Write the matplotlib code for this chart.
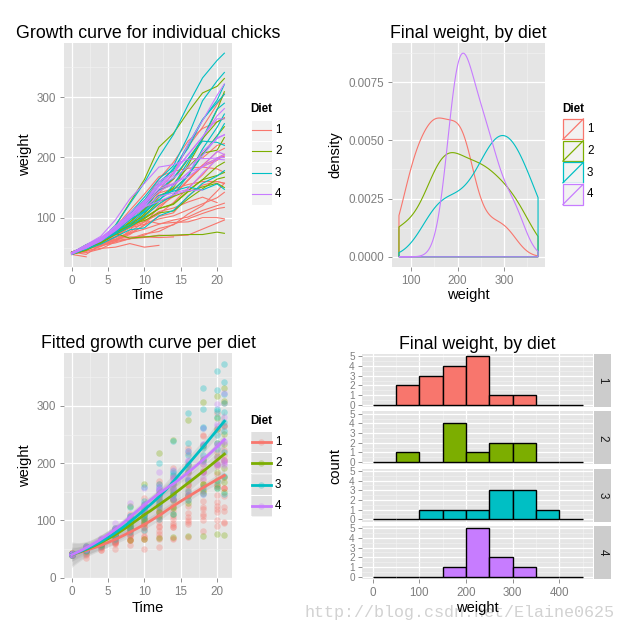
import numpy as np
import matplotlib

matplotlib.use("Agg")
import matplotlib.pyplot as plt
from matplotlib.patches import Rectangle
from matplotlib.lines import Line2D

plt.rcParams["font.family"] = ["Liberation Sans", "DejaVu Sans"]

# ChickWeight data: weight of each chick at the measurement times
times = [0, 2, 4, 6, 8, 10, 12, 14, 16, 18, 20, 21]
diets = ["1", "2", "3", "4"]

diet1_weights = [
    [42, 51, 59, 64, 76, 93, 106, 125, 149, 171, 199, 205],
    [40, 49, 58, 72, 84, 103, 122, 138, 162, 187, 209, 215],
    [43, 39, 55, 67, 84, 99, 115, 138, 163, 187, 198, 202],
    [42, 49, 56, 67, 74, 87, 102, 108, 136, 154, 160, 157],
    [41, 42, 48, 60, 79, 106, 141, 164, 197, 199, 220, 223],
    [41, 49, 59, 74, 97, 124, 141, 148, 155, 160, 160, 157],
    [41, 49, 57, 71, 89, 112, 146, 174, 218, 250, 288, 305],
    [42, 50, 61, 71, 84, 93, 110, 116, 126, 134, 125],
    [42, 51, 59, 68, 85, 96, 90, 92, 93, 100, 100, 98],
    [41, 44, 52, 63, 74, 81, 89, 96, 101, 112, 120, 124],
    [43, 51, 63, 84, 112, 139, 168, 177, 182, 184, 181, 175],
    [41, 49, 56, 62, 72, 88, 119, 135, 162, 185, 195, 205],
    [41, 48, 53, 60, 65, 67, 71, 70, 71, 81, 91, 96],
    [41, 49, 62, 79, 101, 128, 164, 192, 227, 248, 259, 266],
    [41, 49, 56, 64, 68, 68, 67, 68],
    [41, 45, 49, 51, 57, 51, 54],
    [42, 51, 61, 72, 83, 89, 98, 103, 113, 123, 133, 142],
    [39, 35],
    [43, 48, 55, 62, 65, 71, 82, 88, 106, 120, 144, 157],
    [41, 47, 54, 58, 65, 73, 77, 89, 98, 107, 115, 117],
]
diet2_weights = [
    [40, 50, 62, 86, 125, 163, 217, 240, 275, 307, 318, 331],
    [41, 55, 64, 77, 90, 95, 108, 111, 131, 148, 164, 167],
    [43, 52, 61, 73, 90, 103, 127, 135, 145, 163, 170, 175],
    [42, 52, 58, 74, 66, 68, 70, 71, 72, 72, 76, 74],
    [40, 49, 62, 78, 102, 124, 146, 164, 197, 231, 259, 265],
    [42, 48, 57, 74, 93, 114, 136, 147, 169, 205, 236, 251],
    [39, 46, 58, 73, 87, 100, 115, 123, 144, 163, 185, 192],
    [39, 46, 58, 73, 92, 114, 145, 156, 184, 207, 212, 233],
    [39, 48, 59, 74, 87, 106, 134, 150, 187, 230, 279, 309],
    [42, 48, 59, 72, 85, 98, 115, 122, 143, 151, 157, 150],
]
diet3_weights = [
    [42, 53, 62, 73, 85, 102, 123, 138, 170, 204, 235, 256],
    [41, 49, 65, 82, 107, 129, 159, 179, 221, 263, 291, 305],
    [39, 50, 63, 77, 96, 111, 137, 144, 151, 146, 156, 147],
    [41, 49, 63, 85, 107, 134, 164, 186, 235, 294, 327, 341],
    [41, 53, 64, 87, 123, 158, 201, 238, 287, 332, 361, 373],
    [39, 48, 61, 76, 98, 116, 145, 166, 198, 227, 225, 220],
    [41, 48, 56, 68, 80, 83, 103, 112, 135, 157, 169, 178],
    [41, 49, 61, 74, 98, 109, 128, 154, 192, 232, 280, 290],
    [42, 50, 61, 78, 89, 109, 130, 146, 170, 214, 250, 272],
    [41, 55, 66, 79, 101, 120, 154, 182, 215, 262, 295, 321],
]
diet4_weights = [
    [42, 51, 66, 85, 103, 124, 155, 153, 175, 184, 199, 204],
    [42, 49, 63, 84, 103, 126, 160, 174, 204, 234, 269, 281],
    [42, 55, 69, 96, 131, 157, 184, 188, 197, 198, 199, 200],
    [42, 51, 65, 86, 103, 118, 127, 138, 145, 146],
    [41, 50, 61, 78, 98, 117, 135, 141, 147, 174, 197, 196],
    [40, 52, 62, 82, 101, 120, 144, 156, 173, 210, 231, 238],
    [41, 53, 66, 79, 100, 123, 148, 157, 168, 185, 210, 205],
    [39, 50, 62, 80, 104, 125, 154, 170, 222, 261, 303, 322],
    [40, 53, 64, 85, 108, 128, 152, 166, 184, 203, 233, 237],
    [41, 54, 67, 84, 105, 122, 155, 175, 205, 234, 264, 264],
]
diet_weights = [diet1_weights, diet2_weights, diet3_weights, diet4_weights]

COLORS = ["#F8766D", "#7CAE00", "#00BFC4", "#C77CFF"]
W, H = 630, 631
TICK_GREY = "#7F7F7F"


def box(left, top, right, bottom):
    """Pixel box (from top-left) -> figure fraction rect."""
    return [left / W, 1 - bottom / H, (right - left) / W, (bottom - top) / H]


def style_panel(ax):
    ax.set_facecolor("#E5E5E5")
    for spine in ax.spines.values():
        spine.set_visible(False)
    ax.set_axisbelow(True)
    ax.grid(which="major", color="white", lw=0.9)
    ax.grid(which="minor", color="#F2F2F2", lw=0.45)
    ax.tick_params(which="major", length=3.2, width=0.6, color=TICK_GREY,
                   labelcolor=TICK_GREY, labelsize=8.4, pad=2.5)
    ax.tick_params(which="minor", length=0)


def loess_fit(x, y, x_eval, span=0.75):
    """Local quadratic regression (tricube weights) with standard errors."""
    x = np.asarray(x, float)
    y = np.asarray(y, float)
    n = len(x)
    q = int(np.floor(n * span))

    def row(x0):
        d = np.abs(x - x0)
        h = np.sort(d)[q - 1]
        u = np.clip(d / h, 0, 1)
        w = (1 - u ** 3) ** 3
        X = np.column_stack([np.ones(n), x - x0, (x - x0) ** 2])
        XtW = X.T * w
        return np.linalg.solve(XtW @ X, XtW)[0]

    L = np.array([row(v) for v in x])
    resid = y - L @ y
    IL = np.eye(n) - L
    s = np.sqrt(resid @ resid / np.trace(IL.T @ IL))
    Le = np.array([row(v) for v in x_eval])
    return Le @ y, s * np.sqrt((Le ** 2).sum(axis=1))


def kde(values, grid):
    v = np.asarray(values, float)
    q75, q25 = np.percentile(v, [75, 25])
    bw = 0.9 * min(v.std(ddof=1), (q75 - q25) / 1.34) * len(v) ** -0.2
    z = (grid[:, None] - v[None, :]) / bw
    return np.exp(-0.5 * z ** 2).sum(axis=1) / (len(v) * bw * np.sqrt(2 * np.pi))


fig = plt.figure(figsize=(W / 100, H / 100), dpi=100)
fig.patch.set_facecolor("white")

all_w = [v for group in diet_weights for w in group for v in w]
final = [[w[-1] for w in group if len(w) == len(times)] for group in diet_weights]
t_lim = (min(times) - 0.05 * (max(times) - min(times)),
         max(times) + 0.05 * (max(times) - min(times)))

# ---- growth curves for individual chicks
ax1 = fig.add_axes(box(64, 43, 232, 267))
style_panel(ax1)
for d, group in enumerate(diet_weights):
    for w in group:
        ax1.plot(times[:len(w)], w, color=COLORS[d], lw=0.8)
rng = max(all_w) - min(all_w)
ax1.set_xlim(*t_lim)
ax1.set_ylim(min(all_w) - 0.05 * rng, max(all_w) + 0.05 * rng)
ax1.set_xticks([0, 5, 10, 15, 20])
ax1.set_xticks([2.5, 7.5, 12.5, 17.5], minor=True)
ax1.set_yticks([100, 200, 300])
ax1.set_yticks([50, 150, 250, 350], minor=True)

# ---- density of final weight
ax2 = fig.add_axes(box(392, 43, 545, 267))
style_panel(ax2)
all_final = [v for f in final for v in f]
lo, hi = min(all_final), max(all_final)
grid = np.linspace(lo, hi, 512)
dmax = 0
for d, f in enumerate(final):
    dens = kde(f, grid)
    dmax = max(dmax, dens.max())
    ax2.fill(np.r_[lo, grid, hi], np.r_[0, dens, 0], fc="none",
             ec=COLORS[d], lw=0.8)
ax2.set_xlim(lo - 0.05 * (hi - lo), hi + 0.05 * (hi - lo))
ax2.set_ylim(-0.05 * dmax, 1.05 * dmax)
ax2.set_xticks([100, 200, 300])
ax2.set_xticks([150, 250, 350], minor=True)
ax2.set_yticks([0, 0.0025, 0.005, 0.0075])
ax2.set_yticklabels(["0.0000", "0.0025", "0.0050", "0.0075"])
ax2.set_yticks([0.00125, 0.00375, 0.00625, 0.00875], minor=True)

# ---- fitted growth curve per diet
ax3 = fig.add_axes(box(64, 353, 232, 578))
style_panel(ax3)
x_eval = np.linspace(min(times), max(times), 80)
fits = []
for d, group in enumerate(diet_weights):
    tx = [times[i] for w in group for i in range(len(w))]
    wy = [v for w in group for v in w]
    ax3.scatter(tx, wy, s=22, color=COLORS[d], alpha=0.3, lw=0)
    fits.append(loess_fit(tx, wy, x_eval))
for fit, se in fits:
    ax3.fill_between(x_eval, fit - 1.96 * se, fit + 1.96 * se,
                     color="#999999", alpha=0.2, lw=0)
for d, (fit, se) in enumerate(fits):
    ax3.plot(x_eval, fit, color=COLORS[d], lw=2.0)
ax3.set_xlim(*t_lim)
ax3.set_ylim(-0.5, 392.3)
ax3.set_xticks([0, 5, 10, 15, 20])
ax3.set_xticks([2.5, 7.5, 12.5, 17.5], minor=True)
ax3.set_yticks([0, 100, 200, 300])
ax3.set_yticks([50, 150, 250, 350], minor=True)

# ---- histogram of final weight, faceted by diet
edges = np.arange(0, 451, 50)
facet_tops = [354, 411.3, 468.6, 525.9]
facet_h = 53.1
for d, f in enumerate(final):
    top = facet_tops[d]
    ax = fig.add_axes(box(362, top, 593, top + facet_h))
    style_panel(ax)
    counts, _ = np.histogram(f, bins=edges)
    ax.bar(edges[:-1], counts, width=50, align="edge", color=COLORS[d],
           edgecolor="black", lw=1.0)
    ax.set_xlim(-22.5, 472.5)
    ax.set_ylim(-0.25, 5.25)
    ax.set_xticks([0, 100, 200, 300, 400])
    ax.set_xticks([50, 150, 250, 350, 450], minor=True)
    ax.set_yticks(range(6))
    ax.set_yticks(np.arange(0.5, 5, 1), minor=True)
    ax.tick_params(axis="y", labelsize=7.2, pad=2)
    if d < 3:
        ax.tick_params(axis="x", bottom=False, labelbottom=False)

# ---- watermark (sits under everything)
fig.text(305 / W, 1 - 617 / H, "http://blog.csdn.net/Elaine0625",
         family="Liberation Mono", fontsize=12.1, color="#D2D2D2",
         va="baseline", zorder=-1)

# ---- overlay for titles, labels, legends and strips (pixel coordinates)
ov = fig.add_axes([0, 0, 1, 1])
ov.set_xlim(0, W)
ov.set_ylim(H, 0)
ov.axis("off")

for x, y, s in [(148, 37.5, "Growth curve for individual chicks"),
                (468.5, 37.5, "Final weight, by diet"),
                (148, 348.5, "Fitted growth curve per diet"),
                (477.5, 349.3, "Final weight, by diet")]:
    ov.text(x, y, s, fontsize=12.8, ha="center", va="baseline")

for x, y, s in [(148, 299, "Time"), (468.5, 299, "weight"),
                (148, 612.5, "Time"), (477.5, 612, "weight")]:
    ov.text(x, y, s, fontsize=10.5, ha="center", va="baseline")

for x, y, s in [(29, 155, "weight"), (339, 155, "density"),
                (29, 465.5, "weight"), (339, 466.5, "count")]:
    ov.text(x, y, s, fontsize=10.5, ha="center", va="baseline",
            rotation=90, rotation_mode="anchor")

# facet strips
for d in range(4):
    top = facet_tops[d]
    ov.add_patch(Rectangle((594, top), 17, facet_h, fc="#CCCCCC", ec="none"))
    ov.text(602.5, top + facet_h / 2, diets[d], rotation=-90, fontsize=8.4,
            ha="center", va="center", color="#1A1A1A")


def draw_legend(x0, title_y, key_top, ks, kind):
    ov.text(x0, title_y, "Diet", fontsize=8.4, fontweight="bold", va="baseline")
    for i, col in enumerate(COLORS):
        top = key_top + i * ks
        ov.add_patch(Rectangle((x0, top), ks, ks, fc="#F2F2F2", ec="white", lw=0.8))
        cy = top + ks / 2
        if kind == "line":
            ov.add_line(Line2D([x0 + 1.5, x0 + ks - 1.5], [cy, cy], color=col, lw=0.8))
        elif kind == "density":
            ov.add_patch(Rectangle((x0 + 0.6, top + 0.6), ks - 1.2, ks - 1.2,
                                   fc="none", ec=col, lw=0.9))
            ov.add_line(Line2D([x0 + 0.6, x0 + ks - 0.6], [top + ks - 0.6, top + 0.6],
                               color=col, lw=0.9))
        else:
            ov.add_patch(Rectangle((x0 + 0.5, top + 0.5), ks - 1, ks - 1,
                                   fc="#999999", alpha=0.2, ec="none"))
            ov.add_line(Line2D([x0 + 1.5, x0 + ks - 1.5], [cy, cy], color=col, lw=2.0))
            ov.scatter([x0 + ks / 2], [cy], s=22, color=col, alpha=0.3, lw=0)
        ov.text(x0 + ks + 3, cy, diets[i], fontsize=8.4, va="center")


draw_legend(250.7, 112.5, 119.5, 21.3, "line")
draw_legend(562.3, 111.7, 118.3, 21.7, "density")
draw_legend(250.7, 424, 431, 21.4, "smooth")

fig.savefig("out.png", dpi=100)
